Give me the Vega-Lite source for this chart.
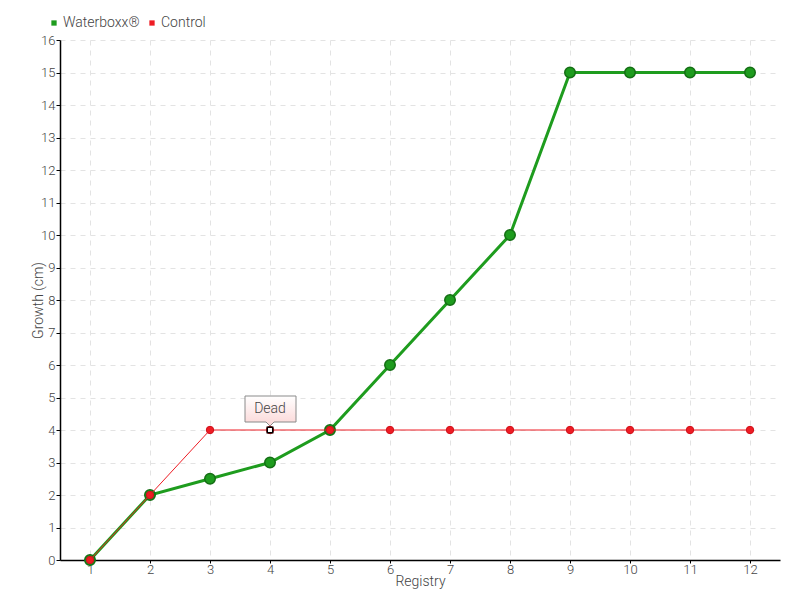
{
  "$schema": "https://vega.github.io/schema/vega-lite/v6.json",
  "autosize": {"type": "none"},
  "width": 720,
  "height": 520,
  "padding": {"left": 60, "top": 40, "right": 20, "bottom": 40},
  "background": "white",
  "datasets": {
    "growth": [
      {"reg": 1, "growth": 0, "series": "Waterboxx®"},
      {"reg": 2, "growth": 2, "series": "Waterboxx®"},
      {"reg": 3, "growth": 2.5, "series": "Waterboxx®"},
      {"reg": 4, "growth": 3, "series": "Waterboxx®"},
      {"reg": 5, "growth": 4, "series": "Waterboxx®"},
      {"reg": 6, "growth": 6, "series": "Waterboxx®"},
      {"reg": 7, "growth": 8, "series": "Waterboxx®"},
      {"reg": 8, "growth": 10, "series": "Waterboxx®"},
      {"reg": 9, "growth": 15, "series": "Waterboxx®"},
      {"reg": 10, "growth": 15, "series": "Waterboxx®"},
      {"reg": 11, "growth": 15, "series": "Waterboxx®"},
      {"reg": 12, "growth": 15, "series": "Waterboxx®"},
      {"reg": 1, "growth": 0, "series": "Control"},
      {"reg": 2, "growth": 2, "series": "Control"},
      {"reg": 3, "growth": 4, "series": "Control"},
      {"reg": 4, "growth": 4, "series": "Control"},
      {"reg": 5, "growth": 4, "series": "Control"},
      {"reg": 6, "growth": 4, "series": "Control"},
      {"reg": 7, "growth": 4, "series": "Control"},
      {"reg": 8, "growth": 4, "series": "Control"},
      {"reg": 9, "growth": 4, "series": "Control"},
      {"reg": 10, "growth": 4, "series": "Control"},
      {"reg": 11, "growth": 4, "series": "Control"},
      {"reg": 12, "growth": 4, "series": "Control"}
    ],
    "notes": [
      {"reg": 4, "growth": 4, "label": "Dead"}
    ]
  },
  "data": {"name": "growth"},
  "encoding": {
    "x": {
      "field": "reg", "type": "ordinal", "title": "Registry",
      "scale": {"type": "point", "padding": 0.5, "domain": [1,2,3,4,5,6,7,8,9,10,11,12]},
      "axis": {"labelAngle": 0, "grid": true, "tickSize": 3, "labelPadding": 0, "titleY": 21, "titleBaseline": "middle"}
    },
    "y": {
      "field": "growth", "type": "quantitative", "title": "Growth (cm)",
      "scale": {"domain": [0, 16], "nice": false},
      "axis": {"values": [0,1,2,3,4,5,6,7,8,9,10,11,12,13,14,15,16], "grid": true, "tickSize": 4, "labelPadding": 1, "titleX": -22, "titleBaseline": "middle"}
    }
  },
  "layer": [
    {
      "transform": [{"filter": "datum.series === 'Waterboxx®'"}],
      "mark": {"type": "line", "strokeWidth": 3, "color": "#1e9c1e"},
      "encoding": {}
    },
    {
      "transform": [{"filter": "datum.series === 'Waterboxx®'"}],
      "mark": {"type": "point", "filled": true, "size": 110, "stroke": "#146e14", "strokeWidth": 1.5, "opacity": 1},
      "encoding": {
        "color": {"field": "series", "type": "nominal", "scale": {"domain": ["Waterboxx®", "Control"], "range": ["#1e9c1e", "#ee1c24"]},
          "legend": {"orient": "none", "legendX": -13, "legendY": -24, "direction": "horizontal", "title": null, "symbolType": "square", "symbolSize": 28, "symbolStrokeWidth": 0, "labelFontSize": 14, "labelColor": "#444", "labelFont": "Roboto", "labelFontWeight": 300, "columnPadding": 5, "labelOffset": 2}}
      }
    },
    {
      "transform": [{"filter": "datum.series === 'Control'"}],
      "mark": {"type": "line", "strokeWidth": 1, "color": "#ee1c24"},
      "encoding": {}
    },
    {
      "transform": [{"filter": "datum.series === 'Control'"}],
      "mark": {"type": "point", "filled": true, "size": 55, "stroke": "#d0101a", "strokeWidth": 1, "opacity": 1},
      "encoding": {"color": {"field": "series", "type": "nominal"}}
    },
    {
      "data": {"name": "notes"},
      "mark": {"type": "point", "shape": "square", "filled": true, "size": 30, "fill": "white", "stroke": "black", "strokeWidth": 1.5, "opacity": 1},
      "encoding": {}
    },
    {
      "data": {"name": "notes"},
      "mark": {"type": "point", "shape": "M-25,-34L26,-34L26,-8L4,-8L0,-4L-4,-8L-25,-8Z", "size": 4, "filled": true, "opacity": 1,
        "fill": {"gradient": "linear", "x1": 0, "y1": 0, "x2": 0, "y2": 1, "stops": [{"offset": 0, "color": "#ffffff"}, {"offset": 1, "color": "#fbd6d6"}]},
        "stroke": "#8a8a8a", "strokeWidth": 1},
      "encoding": {}
    },
    {
      "data": {"name": "notes"},
      "mark": {"type": "text", "dy": -21, "fontSize": 14, "fontWeight": 300, "color": "#444", "font": "Roboto", "baseline": "middle"},
      "encoding": {"text": {"field": "label"}}
    }
  ],
  "config": {
    "view": {"stroke": null},
    "axis": {
      "labelFont": "Roboto",
      "titleFont": "Roboto",
      "labelFontWeight": 300, "titleFontWeight": 300,
      "labelFontSize": 13, "titleFontSize": 14,
      "labelColor": "#444", "titleColor": "#444",
      "domainColor": "black", "tickColor": "black", "domainWidth": 1.5,
      "gridColor": "#e3e3e3", "gridDash": [5, 5], "gridWidth": 1
    }
  }
}
